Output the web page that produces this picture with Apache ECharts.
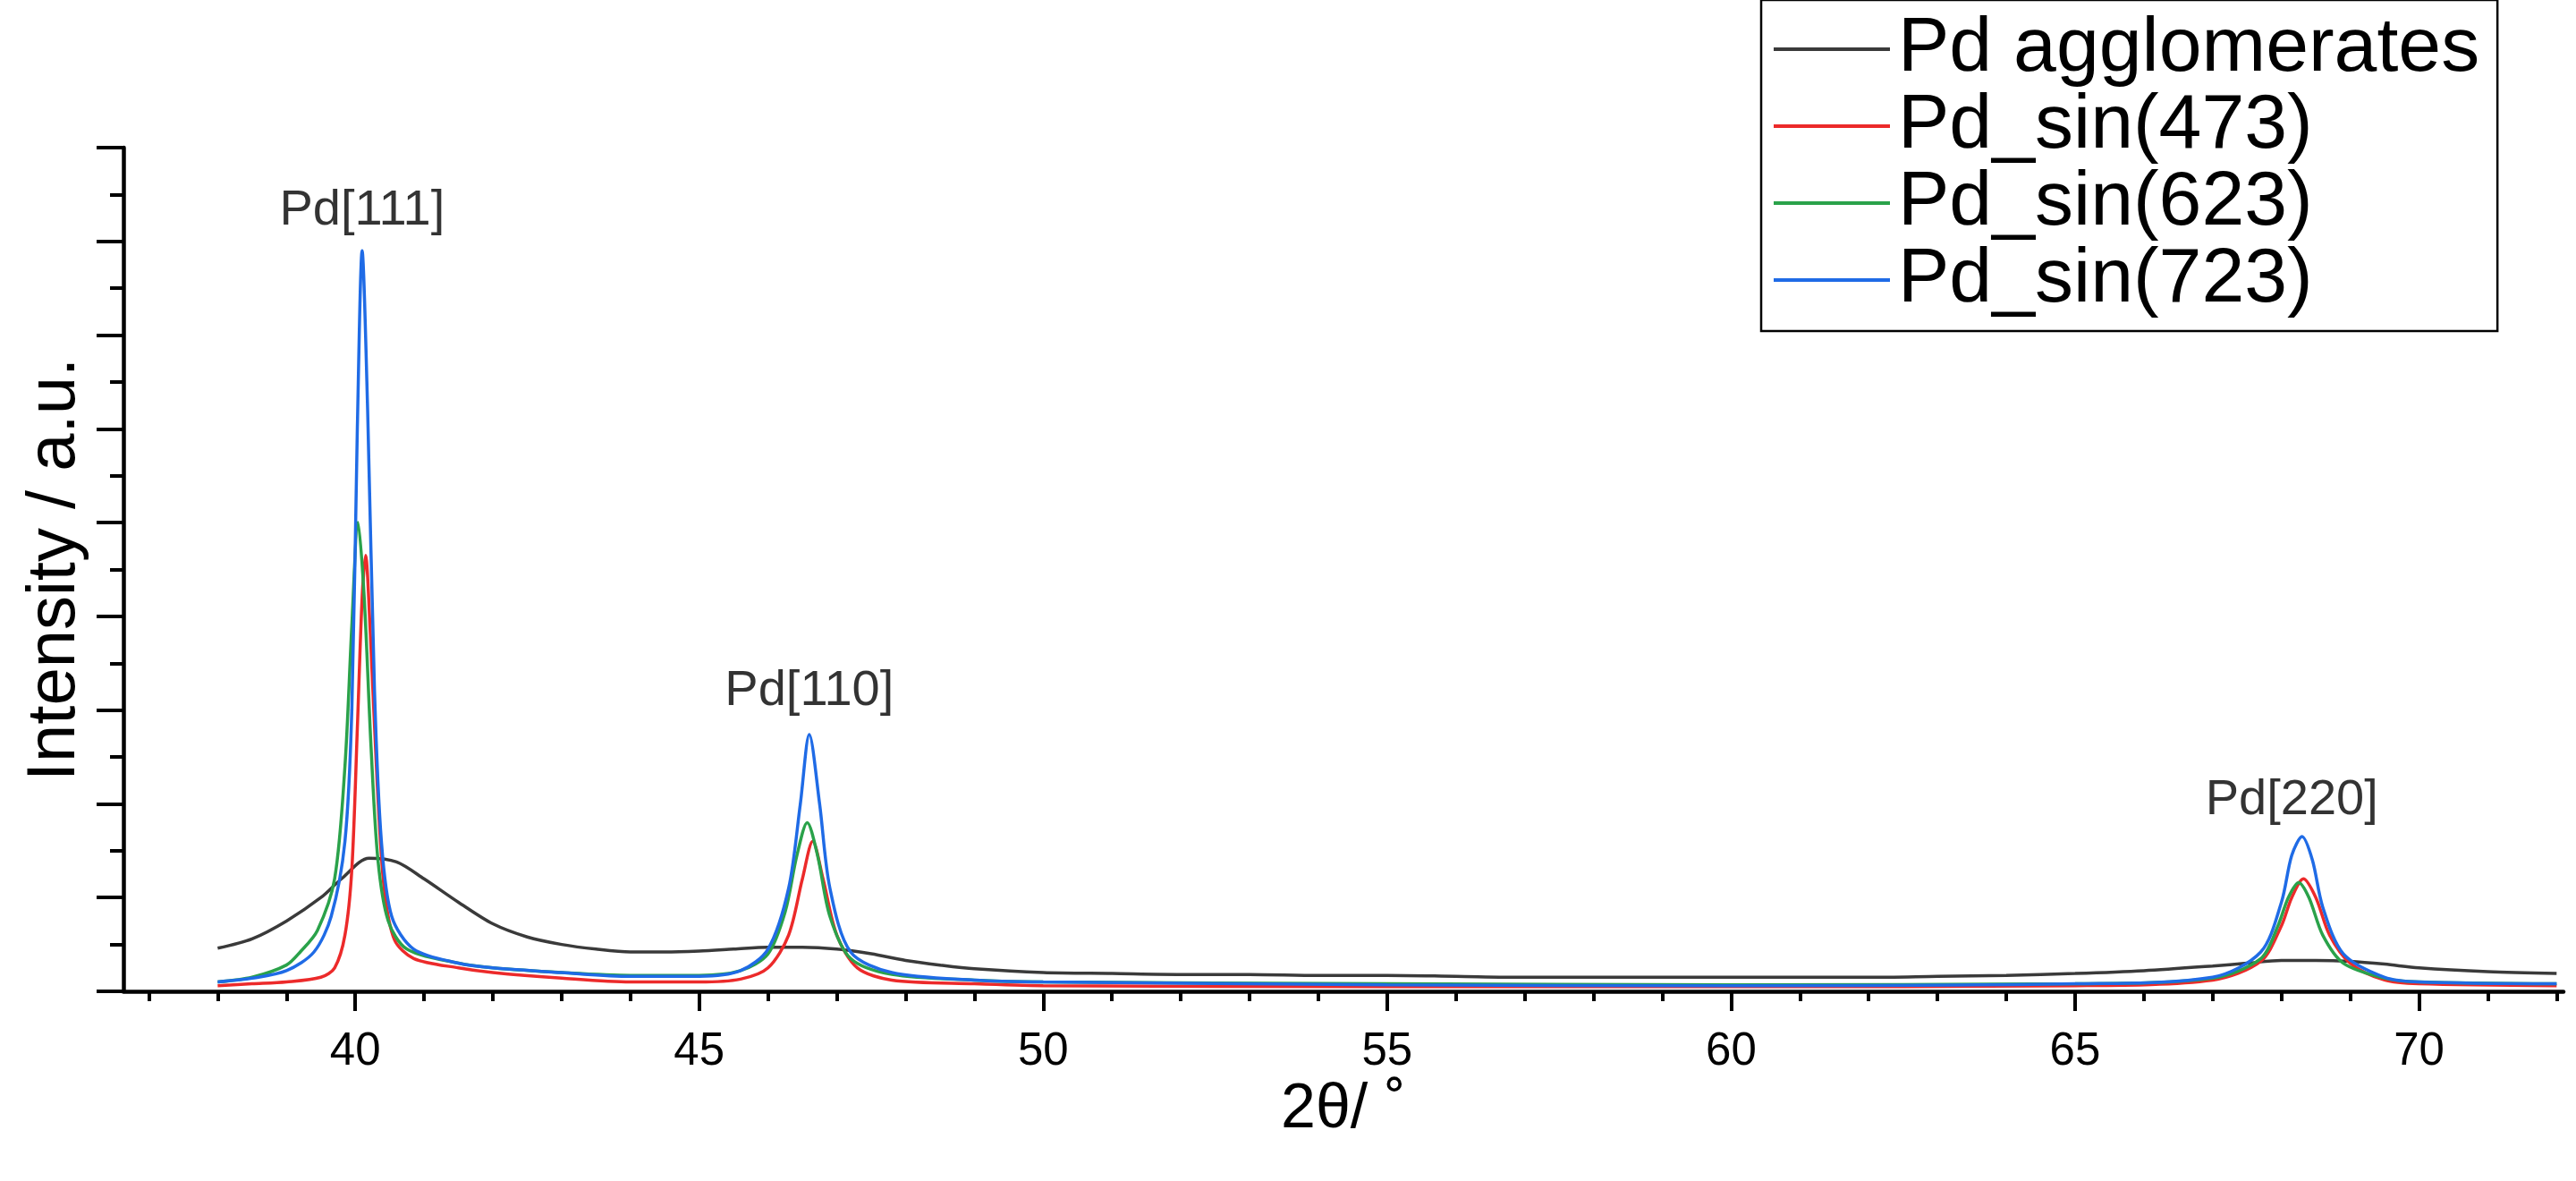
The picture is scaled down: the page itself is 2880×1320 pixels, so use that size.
<!DOCTYPE html>
<html><head><meta charset="utf-8">
<script src="https://cdn.jsdelivr.net/npm/echarts@6/dist/echarts.min.js"></script>
<style>html,body{margin:0;padding:0;background:#fff}#c{width:2880px;height:1320px}</style>
</head><body><div id="c"></div>
<script>
const seriesNames = ['Pd agglomerates','Pd_sin(473)','Pd_sin(623)','Pd_sin(723)'];
const colors = ['#3a3a3a','#ec2a2a','#2aa24a','#1f6be6'];
const agglomerates = [[38,0.46],[38.5,0.56],[39,0.75],[39.5,1.0],[39.8,1.2],[40.2,1.42],[40.6,1.38],[41,1.2],[41.5,0.95],[42,0.72],[42.5,0.58],[43,0.5],[43.5,0.45],[44,0.42],[44.5,0.42],[45,0.43],[45.5,0.45],[46,0.47],[46.5,0.47],[47,0.45],[47.5,0.4],[48,0.33],[48.5,0.28],[49,0.24],[50,0.2],[51,0.19],[52,0.18],[53,0.18],[54,0.17],[55,0.17],[56,0.16],[57,0.15],[58,0.15],[59,0.15],[60,0.15],[61,0.15],[62,0.15],[63,0.16],[64,0.17],[65,0.19],[66,0.22],[67,0.27],[67.5,0.3],[68,0.33],[68.5,0.33],[69,0.32],[69.5,0.29],[70,0.25],[71,0.21],[72,0.19]];
const sin473 = [[38,0.06],[38.5,0.08],[39,0.1],[39.5,0.15],[39.7,0.25],[39.85,0.6],[39.95,1.3],[40.03,2.8],[40.1,4.2],[40.15,4.65],[40.22,3.8],[40.32,2.2],[40.42,1.1],[40.57,0.55],[40.85,0.35],[41.5,0.25],[42,0.2],[43,0.14],[44,0.1],[45,0.1],[45.6,0.13],[46.0,0.25],[46.3,0.6],[46.5,1.2],[46.65,1.6],[46.8,1.2],[47.0,0.6],[47.3,0.25],[47.8,0.12],[49,0.08],[50,0.06],[55,0.05],[60,0.05],[65,0.06],[67,0.12],[67.7,0.32],[68.0,0.7],[68.15,1.0],[68.32,1.2],[68.5,1.0],[68.7,0.6],[69,0.3],[69.5,0.12],[70,0.08],[72,0.06]];
const sin623 = [[38,0.1],[38.5,0.15],[39,0.28],[39.2,0.42],[39.45,0.65],[39.7,1.2],[39.85,2.4],[39.95,3.9],[40.04,5.0],[40.13,4.2],[40.23,2.6],[40.33,1.4],[40.48,0.75],[40.75,0.45],[41.5,0.3],[42,0.25],[43,0.2],[44,0.17],[45,0.17],[45.6,0.22],[46.0,0.4],[46.25,0.85],[46.42,1.45],[46.57,1.8],[46.72,1.45],[46.9,0.8],[47.2,0.35],[47.8,0.18],[49,0.12],[50,0.1],[55,0.08],[60,0.07],[65,0.08],[67,0.14],[67.7,0.35],[67.95,0.7],[68.1,1.0],[68.25,1.16],[68.4,1.0],[68.6,0.6],[68.9,0.3],[69.5,0.14],[70,0.1],[72,0.08]];
const sin723 = [[38,0.1],[38.5,0.14],[39,0.22],[39.4,0.42],[39.65,0.8],[39.85,1.6],[39.95,3.0],[40.03,6.0],[40.1,7.9],[40.18,6.2],[40.28,3.2],[40.38,1.6],[40.53,0.8],[40.85,0.45],[41.5,0.3],[42,0.25],[43,0.2],[44,0.16],[45,0.16],[45.6,0.22],[46.0,0.45],[46.3,1.1],[46.47,2.0],[46.6,2.74],[46.75,2.0],[46.9,1.1],[47.2,0.42],[47.8,0.2],[49,0.12],[50,0.1],[55,0.07],[60,0.06],[65,0.08],[67,0.15],[67.7,0.42],[68.0,0.95],[68.15,1.45],[68.3,1.65],[68.45,1.4],[68.6,0.9],[68.9,0.4],[69.5,0.15],[70,0.1],[72,0.08]];
const peakLabels = [[40.1,8.33,'Pd[111]'],[46.6,3.2,'Pd[110]'],[68.15,2.04,'Pd[220]']];
const xMajorTicks = [40,45,50,55,60,65,70];
const xMinorTicks = [37,38,39,41,42,43,44,46,47,48,49,51,52,53,54,56,57,58,59,61,62,63,64,66,67,68,69,71,72];
const datasets = [agglomerates, sin473, sin623, sin723];

const chart = echarts.init(document.getElementById('c'));
const font = 'Liberation Sans, Arial, sans-serif';
const lineSeries = datasets.map((d,i)=>({
  name: seriesNames[i], type:'line', data:d, xAxisIndex:0, showSymbol:false, symbol:'none',
  smooth:0.3, lineStyle:{color:colors[i], width:3.5}, itemStyle:{color:colors[i]}, z:2+i
}));
lineSeries.push({
  type:'scatter', data:peakLabels, symbolSize:0, xAxisIndex:0, silent:true,
  label:{show:true, position:'inside', formatter:p=>p.data[2], fontSize:56, color:'#000', fontFamily:font}
});
chart.setOption({
  animation:false,
  grid:{left:138, right:14, top:165, bottom:212},
  legend:{
    data:seriesNames, orient:'vertical', left:1969, top:0, width:893, itemWidth:130, itemHeight:4, itemGap:0,
    padding:[12,20,14,14], borderColor:'#000', borderWidth:2.5, backgroundColor:'#fff',
    icon:'rect', textStyle:{fontSize:86, lineHeight:78, height:78, fontFamily:font, color:'#000', padding:[0,0,0,4]}
  },
  xAxis:[{
    type:'value', min:36.63, max:72.1, splitLine:{show:false},
    axisLine:{lineStyle:{color:'#000', width:4.5}},
    axisTick:{customValues:xMajorTicks, length:22, lineStyle:{width:4, color:'#000'}},
    axisLabel:{customValues:xMajorTicks, fontSize:51, color:'#000', margin:42, fontFamily:font},
    name:'2θ/ ˚', nameLocation:'middle', nameGap:90, nameTextStyle:{fontSize:70, color:'#000', fontFamily:font}
  },{
    type:'value', min:36.63, max:72.1, position:'bottom', splitLine:{show:false},
    axisLine:{show:false},
    axisTick:{customValues:xMinorTicks, length:11, lineStyle:{width:4, color:'#000'}},
    axisLabel:{show:false}
  }],
  yAxis:{
    type:'value', min:0, max:9, interval:1, splitLine:{show:false},
    axisLine:{show:true, lineStyle:{color:'#000', width:4.5}},
    axisTick:{show:true, length:30, lineStyle:{width:4, color:'#000'}},
    minorTick:{show:true, splitNumber:2, length:15, lineStyle:{width:4, color:'#000'}},
    axisLabel:{show:false},
    name:'Intensity / a.u.', nameLocation:'middle', nameGap:38, nameRotate:90,
    nameTextStyle:{fontSize:76, color:'#000', fontFamily:font}
  },
  series:lineSeries
});
</script></body></html>
